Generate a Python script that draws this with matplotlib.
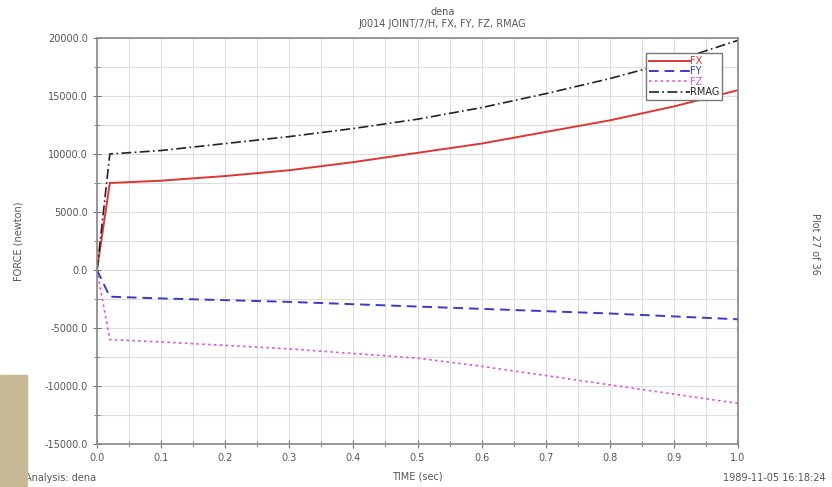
import numpy as np
import matplotlib.pyplot as plt
from matplotlib.ticker import MultipleLocator, FormatStrFormatter
from matplotlib.patches import Rectangle

# values
time = [0.0, 0.02, 0.1, 0.2, 0.3, 0.4, 0.5, 0.6, 0.7, 0.8, 0.9, 1.0]
fx = [0, 7500, 7700, 8100, 8600, 9300, 10100, 10900, 11900, 12900, 14100, 15500]
fy = [0, -2300, -2450, -2600, -2750, -2950, -3150, -3350, -3550, -3750, -4000, -4250]
fz = [0, -6000, -6200, -6500, -6800, -7200, -7600, -8300, -9100, -9900, -10700, -11500]
rmag = [0, 10000, 10300, 10900, 11500, 12200, 13000, 14000, 15200, 16500, 18000, 19800]

title = "dena"
subtitle = "J0014 JOINT/7/H, FX, FY, FZ, RMAG"

txt = "#555555"
fig = plt.figure(figsize=(8.32, 4.87), dpi=100)
ax = fig.add_axes([97/832, 43/487, (738-97)/832, (444-38)/487])

ax.plot(time, fx, color="#e03535", lw=1.4, label="FX")
ax.plot(time, fy, color="#3a3ac8", lw=1.4, ls=(0, (5, 3)), label="FY")
ax.plot(time, fz, color="#e050e0", lw=1.2, ls=(0, (1.5, 2)), label="FZ")
ax.plot(time, rmag, color="#222222", lw=1.2, ls=(0, (6, 2, 1, 2)), label="RMAG")

ax.set_xlim(0, 1.0)
ax.set_ylim(-15000, 20000)
ax.xaxis.set_major_locator(MultipleLocator(0.1))
ax.xaxis.set_minor_locator(MultipleLocator(0.05))
ax.yaxis.set_major_locator(MultipleLocator(5000))
ax.yaxis.set_minor_locator(MultipleLocator(2500))
ax.xaxis.set_major_formatter(FormatStrFormatter("%.1f"))
ax.yaxis.set_major_formatter(FormatStrFormatter("%.1f"))
ax.grid(True, which="both", color="#dddddd", lw=0.8)
ax.set_axisbelow(True)
ax.tick_params(which="both", direction="inout", labelsize=7, colors="#777777", labelcolor=txt)
ax.tick_params(which="major", length=6)
ax.tick_params(which="minor", length=4)
for s in ax.spines.values():
    s.set_color("#888888")
    s.set_linewidth(1.2)

ax.set_xlabel("TIME (sec)", fontsize=7, color=txt, labelpad=6)
ax.set_ylabel("FORCE (newton)", fontsize=7, color=txt)
ax.yaxis.set_label_coords(-0.115, 0.5)

fig.text(0.532, 0.975, title, ha="center", va="center", fontsize=7, color=txt)
fig.text(0.532, 0.951, subtitle, ha="center", va="center", fontsize=7, color=txt)
fig.text(0.98, 0.5, "Plot 27 of 36", rotation=270, ha="center", va="center", fontsize=7, color=txt)
fig.text(0.992, 0.018, "1989-11-05 16:18:24", ha="right", va="center", fontsize=7, color=txt)
fig.text(96/832, 0.018, "Analysis: dena", ha="right", va="center", fontsize=7, color=txt)
fig.patches.append(Rectangle((0, 0), 27/832, 112/487, transform=fig.transFigure,
                             color="#c8b893", zorder=10))

leg = ax.legend(loc="upper right", bbox_to_anchor=(0.983, 0.975), fontsize=7,
                handlelength=4.2, handletextpad=0.0, borderpad=0.3, labelspacing=0.05,
                fancybox=False, edgecolor="#777777", framealpha=1)
for t, l in zip(leg.get_texts(), leg.get_lines()):
    t.set_color(l.get_color())

fig.savefig("out.png", dpi=100)
